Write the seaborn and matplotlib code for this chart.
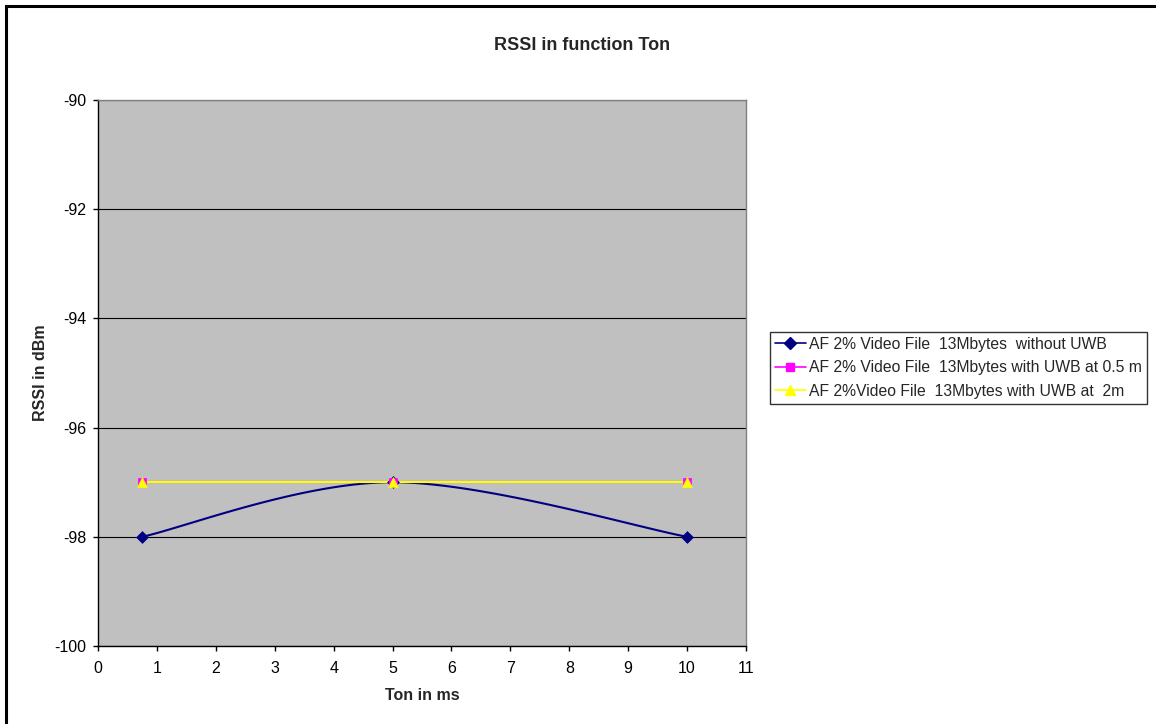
import numpy as np
import matplotlib
matplotlib.use("Agg")
import matplotlib.pyplot as plt
import seaborn as sns
from matplotlib.patches import Rectangle

sns.set_theme(style="white")
plt.rcParams['font.family'] = ['Liberation Sans', 'DejaVu Sans']
plt.rcParams['axes.unicode_minus'] = False

ton = [0.75, 5, 10]
rssi_no_uwb = [-98, -97, -98]
rssi_uwb_05 = [-97, -97, -97]
rssi_uwb_2 = [-97, -97, -97]
labels = ["AF 2% Video File  13Mbytes  without UWB",
          "AF 2% Video File  13Mbytes with UWB at 0.5 m",
          "AF 2%Video File  13Mbytes with UWB at  2m"]


def excel_smooth(x, y, n=60):
    x = np.asarray(x, float); y = np.asarray(y, float)
    px = np.concatenate([[x[0]], x, [x[-1]]])
    py = np.concatenate([[y[0]], y, [y[-1]]])
    xs, ys = [], []
    t = np.linspace(0, 1, n)
    for i in range(1, len(px) - 2):
        p0 = np.array([px[i], py[i]]); p3 = np.array([px[i + 1], py[i + 1]])
        c1 = p0 + (np.array([px[i + 1], py[i + 1]]) - np.array([px[i - 1], py[i - 1]])) / 6
        c2 = p3 - (np.array([px[i + 2], py[i + 2]]) - np.array([px[i], py[i]])) / 6
        b = ((1 - t) ** 3)[:, None] * p0 + (3 * (1 - t) ** 2 * t)[:, None] * c1 + \
            (3 * (1 - t) * t ** 2)[:, None] * c2 + (t ** 3)[:, None] * p3
        xs.extend(b[:, 0]); ys.extend(b[:, 1])
    return np.array(xs), np.array(ys)


fig = plt.figure(figsize=(11.56, 7.24), dpi=100)
fig.patch.set_facecolor("white")
ax = fig.add_axes([98 / 1156, 1 - 646 / 724, (746 - 98) / 1156, (646 - 100) / 724])
ax.set_facecolor("#C0C0C0")

series = [
    (rssi_no_uwb, "#000080", "D", 6, True),
    (rssi_uwb_05, "#FF00FF", "s", 6, False),
    (rssi_uwb_2, "#FFFF00", "^", 7, False),
]
handles = []
for (vals, col, mk, ms, smooth), lab in zip(series, labels):
    if smooth:
        sx, sy = excel_smooth(ton, vals)
    else:
        sx, sy = np.array(ton, float), np.array(vals, float)
    sns.lineplot(x=sx, y=sy, ax=ax, color=col, lw=1.5, sort=False,
                 estimator=None, legend=False)
    sns.scatterplot(x=ton, y=vals, ax=ax, color=col, marker=mk, s=ms ** 2,
                    edgecolor=col, linewidth=0.5, legend=False, zorder=5)
    handles.append(plt.Line2D([], [], color=col, marker=mk, markersize=ms, lw=1.2,
                              markeredgecolor=col))

ax.set_xlim(0, 11)
ax.set_ylim(-100, -90)
ax.set_xticks(range(0, 12))
ax.set_yticks(range(-100, -89, 2))
ax.yaxis.grid(True, color="black", lw=0.8)
ax.set_axisbelow(True)
for s in ["top", "right"]:
    ax.spines[s].set_color("#808080")
    ax.spines[s].set_linewidth(1)
for s in ["left", "bottom"]:
    ax.spines[s].set_color("black")
    ax.spines[s].set_linewidth(1)
ax.tick_params(axis="both", which="major", direction="out", length=3.8, width=1,
               color="black", labelsize=11.5, labelcolor="black", pad=4.5,
               bottom=True, left=True)
ax.tick_params(axis="x", pad=7)
ax.set_xlabel("Ton in ms", fontsize=11.5, fontweight="bold", labelpad=9)
ax.set_ylabel("RSSI in dBm", fontsize=11.5, fontweight="bold", labelpad=5)

fig.text(582 / 1156, 1 - 45 / 724, "RSSI in function Ton", ha="center", va="center",
         fontsize=13, fontweight="bold")

leg = fig.legend(handles, labels, loc="upper left",
                 bbox_to_anchor=(770 / 1156, 1 - 332 / 724), frameon=True,
                 fontsize=11.3, handlelength=2.0, handletextpad=0.2, borderpad=0.3,
                 labelspacing=0.55, fancybox=False, borderaxespad=0)
leg.get_frame().set_edgecolor("black")
leg.get_frame().set_linewidth(1)

fig.patches.append(Rectangle((6 / 1156, -0.1), 1.2, 1 - 6 / 724 + 0.1,
                             transform=fig.transFigure, fill=False,
                             edgecolor="black", lw=2.2))

fig.savefig("out.png", dpi=100)
